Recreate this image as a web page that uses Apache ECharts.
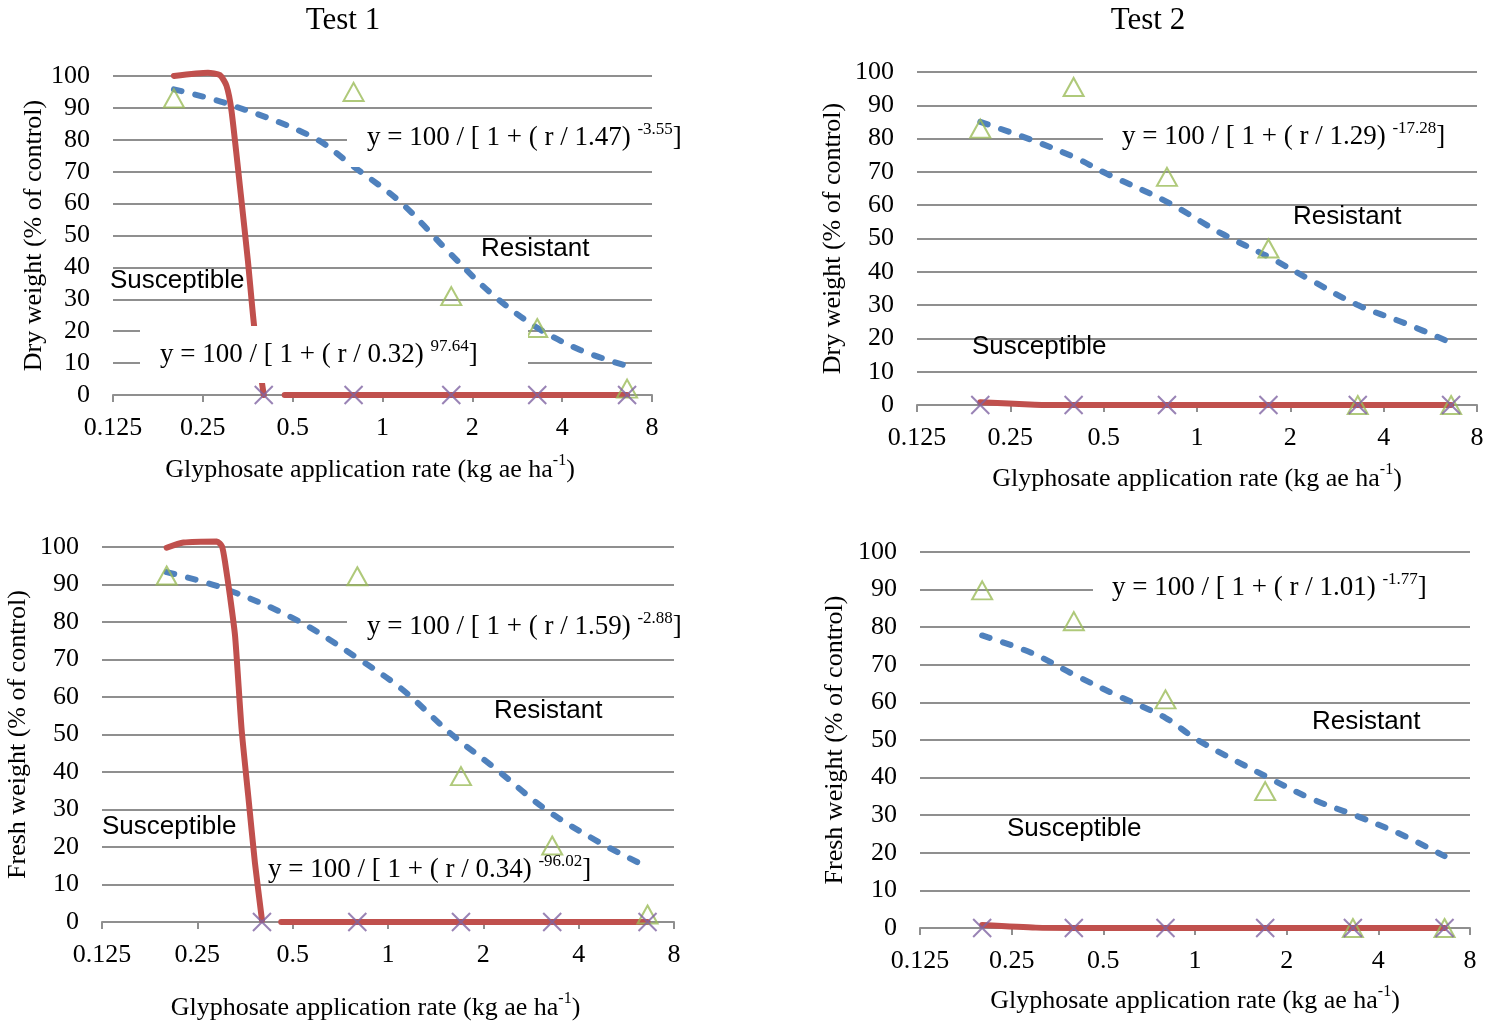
<!DOCTYPE html>
<html>
<head>
<meta charset="utf-8">
<title>Glyphosate dose response</title>
<script src="https://cdn.jsdelivr.net/npm/echarts@6/dist/echarts.min.js"></script>
<style>
  html, body { margin: 0; padding: 0; background: #fff; }
  #chart { width: 1490px; height: 1022px; }
</style>
</head>
<body>
<div id="chart"></div>
<script>
// application rates, kg ae/ha
const doses = [0.2, 0.4, 0.8, 1.7, 3.3, 6.6];
const xTickLabels = ["0.125", "0.25", "0.5", "1", "2", "4", "8"];

// observed values (% of control), null = no marker
const dryT1Resistant = [93, null, 95, 31, 21, 2];
const dryT1Susceptible = [null, 0, 0, 0, 0, 0];
const dryT2Resistant = [83, 95.5, 68.5, 47, 0, 0];
const dryT2Susceptible = [0, 0, 0, 0, 0, 0];
const freshT1Resistant = [92.4, null, 92.2, 38.9, 20.4, 2];
const freshT1Susceptible = [null, 0, 0, 0, 0, 0];
const freshT2Resistant = [89.8, 81.6, 60.8, 36.4, 0, 0];
const freshT2Susceptible = [0, 0, 0, 0, 0, 0];

// fitted curves
const dryT1ResFitX = [0.2, 0.3, 0.58, 0.8, 1.16, 1.64, 2.31, 3.26, 4.6, 6.6];
const dryT1ResFitY = [95.8, 91.4, 81, 71.6, 60.1, 45.5, 31.9, 21.4, 14.1, 9.1];
const dryT1SusFitX = [0.2, 0.26, 0.285, 0.3, 0.312, 0.335, 0.354, 0.372, 0.4, 0.44, 0.47, 0.8, 1.7, 3.3, 6.6];
const dryT1SusFitY = [100, 101, 100.3, 97, 89, 63, 42, 21, 0, null, 0, 0, 0, 0, 0];

const dryT2ResFitX = [0.2, 0.285, 0.4, 0.51, 0.8, 1.2, 1.7, 2.33, 3.3, 4.7, 6.6];
const dryT2ResFitY = [85, 80, 74.5, 69.5, 61, 51.5, 44.5, 37.5, 30, 24.5, 18.7];
const dryT2SusFitX = [0.2, 0.3, 0.4, 0.8, 1.7, 3.3, 6.6];
const dryT2SusFitY = [0.8, 0.1, 0, 0, 0, 0, 0];

const freshT1ResFitX = [0.2, 0.3, 0.51, 0.8, 1.11, 1.59, 2.2, 3.15, 4.66, 6.5];
const freshT1ResFitY = [93.3, 89.1, 80.7, 70.4, 62, 50, 40.7, 30, 21.2, 14.9];
const freshT1SusFitX = [0.2, 0.226, 0.288, 0.299, 0.306, 0.317, 0.329, 0.345, 0.362, 0.38, 0.4, 0.43, 0.46, 0.8, 1.7, 3.3, 6.6];
const freshT1SusFitY = [99.8, 101.2, 101.5, 100.2, 95.8, 86.9, 76.2, 51.3, 33.6, 15.8, 0.5, null, 0, 0, 0, 0, 0];

const freshT2ResFitX = [0.2, 0.29, 0.4, 0.56, 0.8, 1.02, 1.75, 2.44, 3.42, 4.78, 6.6];
const freshT2ResFitY = [77.8, 73.2, 67.4, 61.7, 55.9, 50, 39.9, 34.2, 29.7, 24.8, 19.1];
const freshT2SusFitX = [0.2, 0.3, 0.4, 0.8, 1.7, 3.3, 6.6];
const freshT2SusFitY = [0.8, 0.1, 0, 0, 0, 0, 0];

// equation texts
const eqDryT1Res = ["y = 100 / [ 1 + ( r / 1.47) ", "-3.55", "]"];
const eqDryT1Sus = ["y = 100 / [ 1 + ( r / 0.32) ", "97.64", "]"];
const eqDryT2Res = ["y = 100 / [ 1 + ( r / 1.29) ", "-17.28", "]"];
const eqFreshT1Res = ["y = 100 / [ 1 + ( r / 1.59) ", "-2.88", "]"];
const eqFreshT1Sus = ["y = 100 / [ 1 + ( r / 0.34) ", "-96.02", "]"];
const eqFreshT2Res = ["y = 100 / [ 1 + ( r / 1.01) ", "-1.77", "]"];

const SERIF = "'Liberation Serif', 'Times New Roman', serif";
const SANS = "'Liberation Sans', Arial, sans-serif";
const GRID_COLOR = "#8f8f8f";
const RED = "#C0504D";
const BLUE = "#4F81BD";
const GREEN = "#9BBB59";
const PURPLE = "#8064A2";

const supRich = {
  m: { fontFamily: SERIF, fontSize: 26, color: "#000", lineHeight: 34 },
  s: { fontFamily: SERIF, fontSize: 16, color: "#000", lineHeight: 16, verticalAlign: "top" },
};
const eqRich = {
  m: { fontFamily: SERIF, fontSize: 27, color: "#000", lineHeight: 34 },
  s: { fontFamily: SERIF, fontSize: 17, color: "#000", lineHeight: 17, verticalAlign: "top" },
};

const panels = [
  {
    grid: { left: 113, top: 76, width: 539, height: 319 },
    yName: "Dry weight (% of control)", yGap: 65, xGap: 58, xShift: 25,
    res: dryT1Resistant, sus: dryT1Susceptible,
    resFit: [dryT1ResFitX, dryT1ResFitY], susFit: [dryT1SusFitX, dryT1SusFitY],
  },
  {
    grid: { left: 917, top: 72, width: 560, height: 333 },
    yName: "Dry weight (% of control)", yGap: 71, xGap: 57, xShift: 0,
    res: dryT2Resistant, sus: dryT2Susceptible,
    resFit: [dryT2ResFitX, dryT2ResFitY], susFit: [dryT2SusFitX, dryT2SusFitY],
  },
  {
    grid: { left: 102, top: 547, width: 572, height: 375 },
    yName: "Fresh weight (% of control)", yGap: 71, xGap: 69, xShift: 25,
    res: freshT1Resistant, sus: freshT1Susceptible,
    resFit: [freshT1ResFitX, freshT1ResFitY], susFit: [freshT1SusFitX, freshT1SusFitY],
  },
  {
    grid: { left: 920, top: 552, width: 550, height: 376 },
    yName: "Fresh weight (% of control)", yGap: 72, xGap: 56, xShift: 0,
    res: freshT2Resistant, sus: freshT2Susceptible,
    resFit: [freshT2ResFitX, freshT2ResFitY], susFit: [freshT2SusFitX, freshT2SusFitY],
  },
];

function zipPoints(xs, ys) {
  return xs.map((x, i) => [x, ys[i]]);
}

function markerPoints(ys) {
  return doses.map((d, i) => [d, ys[i]]).filter((p) => p[1] !== null);
}

function fmtTick(v) {
  const s = String(+v.toPrecision(6));
  return xTickLabels.includes(s) ? s : "";
}

const grids = [];
const xAxes = [];
const yAxes = [];
const series = [];

panels.forEach((p, i) => {
  grids.push(p.grid);
  xAxes.push({
    gridIndex: i,
    type: "log",
    logBase: 2,
    min: 0.125,
    max: 8,
    splitNumber: 6,
    axisLine: { show: true, onZero: false, lineStyle: { color: GRID_COLOR, width: 2 } },
    axisTick: { show: true, length: 7, lineStyle: { color: GRID_COLOR, width: 2 } },
    axisLabel: { fontFamily: SERIF, fontSize: 26, color: "#000", margin: 20, formatter: fmtTick, hideOverlap: false },
    splitLine: { show: false },
    minorTick: { show: false },
    name: "{m|Glyphosate application rate (kg ae ha}{s|-1}{m|)}",
    nameLocation: "middle",
    nameGap: p.xGap,
    nameTextStyle: { padding: [0, p.xShift, 0, 0], rich: supRich },
  });
  yAxes.push({
    gridIndex: i,
    type: "value",
    min: 0,
    max: 100,
    interval: 10,
    axisLine: { show: false },
    axisTick: { show: false },
    axisLabel: { fontFamily: SERIF, fontSize: 26, color: "#000", margin: 23 },
    splitLine: { show: true, lineStyle: { color: GRID_COLOR, width: 2 } },
    name: p.yName,
    nameLocation: "middle",
    nameGap: p.yGap,
    nameTextStyle: { fontFamily: SERIF, fontSize: 26, color: "#000" },
  });
  series.push(
    {
      name: "Resistant fit",
      type: "line",
      xAxisIndex: i,
      yAxisIndex: i,
      data: zipPoints(p.resFit[0], p.resFit[1]),
      symbol: "none",
      smooth: 0.35,
      clip: false,
      z: 3,
      lineStyle: { color: BLUE, width: 6, type: [8, 14], cap: "round" },
    },
    {
      name: "Susceptible fit",
      type: "line",
      xAxisIndex: i,
      yAxisIndex: i,
      data: zipPoints(p.susFit[0], p.susFit[1]),
      symbol: "none",
      smooth: 0.2,
      connectNulls: false,
      clip: false,
      z: 4,
      lineStyle: { color: RED, width: 6, cap: "round", join: "round" },
    },
    {
      name: "Resistant",
      type: "scatter",
      xAxisIndex: i,
      yAxisIndex: i,
      data: markerPoints(p.res),
      symbol: "triangle",
      symbolSize: [20, 18],
      clip: false,
      z: 5,
      itemStyle: { color: "rgba(0,0,0,0)", borderColor: GREEN, borderWidth: 2 },
    },
    {
      name: "Susceptible",
      type: "scatter",
      xAxisIndex: i,
      yAxisIndex: i,
      data: markerPoints(p.sus),
      symbol: "path://M0,0L20,20M20,0L0,20",
      symbolSize: 18,
      clip: false,
      z: 6,
      itemStyle: { color: "none", borderColor: PURPLE, borderWidth: 2 },
    }
  );
});

function textEl(str, x, y, font, align) {
  return {
    type: "text", x: x, y: y, z: 101, silent: true,
    style: { text: str, font: font, fill: "#000", align: align || "left", verticalAlign: "middle" },
  };
}

function eqEl(parts, x, y) {
  return {
    type: "text", x: x, y: y, z: 101, silent: true,
    style: {
      text: "{m|" + parts[0] + "}{s|" + parts[1] + "}{m|" + parts[2] + "}",
      align: "left", verticalAlign: "middle", rich: eqRich,
    },
  };
}

function boxEl(x, y, w, h) {
  return {
    type: "rect", z: 100, silent: true,
    shape: { x: x, y: y, width: w, height: h },
    style: { fill: "#fff" },
  };
}

const graphics = [
  textEl("Test 1", 343, 21, "31px " + SERIF, "center"),
  textEl("Test 2", 1148, 21, "31px " + SERIF, "center"),

  boxEl(347, 115, 340, 52),
  eqEl(eqDryT1Res, 367, 138),
  boxEl(140, 326, 388, 57),
  eqEl(eqDryT1Sus, 160, 355),
  textEl("Resistant", 481, 249, "26px " + SANS),
  textEl("Susceptible", 110, 281, "26px " + SANS),

  boxEl(1103, 116, 380, 46),
  eqEl(eqDryT2Res, 1122, 137),
  textEl("Resistant", 1293, 217, "26px " + SANS),
  textEl("Susceptible", 972, 347, "26px " + SANS),

  boxEl(347, 604, 340, 40),
  eqEl(eqFreshT1Res, 367, 627),
  eqEl(eqFreshT1Sus, 268, 870),
  textEl("Resistant", 494, 711, "26px " + SANS),
  textEl("Susceptible", 102, 827, "26px " + SANS),

  boxEl(1093, 569, 380, 42),
  eqEl(eqFreshT2Res, 1112, 588),
  textEl("Resistant", 1312, 722, "26px " + SANS),
  textEl("Susceptible", 1007, 829, "26px " + SANS),
];

const myChart = echarts.init(document.getElementById("chart"));
myChart.setOption({
  animation: false,
  backgroundColor: "#fff",
  grid: grids,
  xAxis: xAxes,
  yAxis: yAxes,
  series: series,
  graphic: graphics,
});
</script>
</body>
</html>
